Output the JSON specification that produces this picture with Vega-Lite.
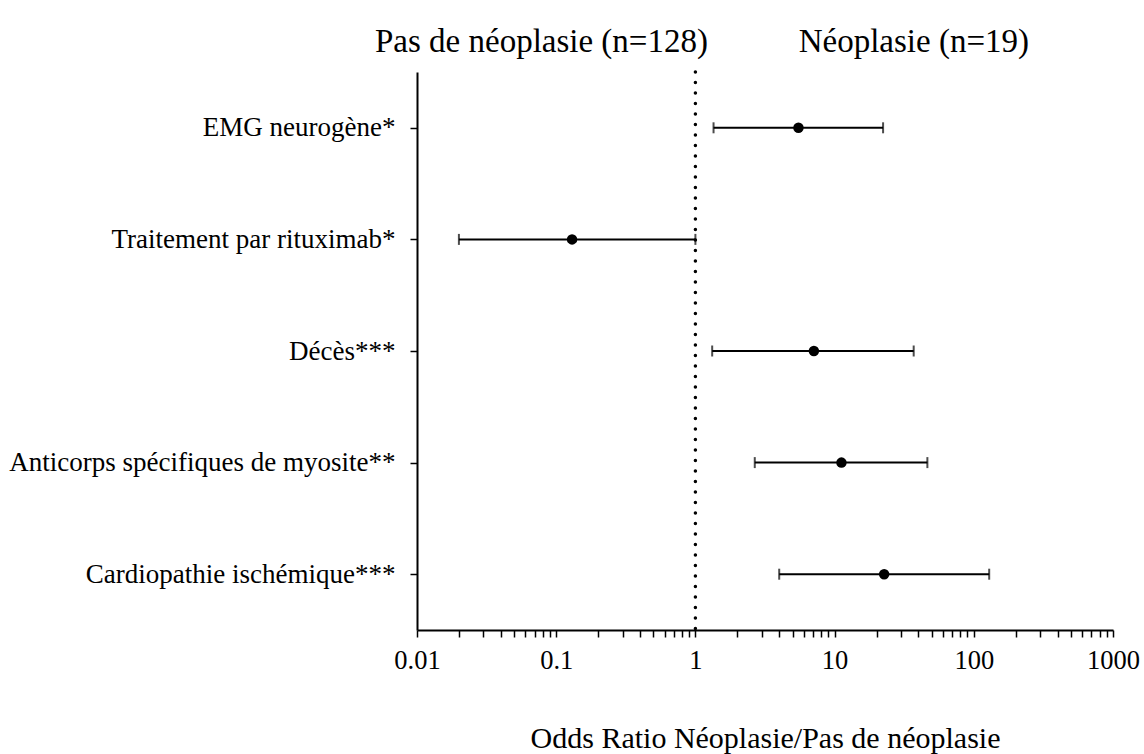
{
  "$schema": "https://vega.github.io/schema/vega-lite/v6.json",
  "width": 696,
  "height": 558,
  "autosize": {"type": "none"},
  "padding": {"left": 417, "top": 72, "right": 31, "bottom": 124},
  "background": "white",
  "title": {
    "text": "Pas de néoplasie (n=128)\u00a0\u00a0\u00a0\u00a0\u00a0\u00a0\u00a0\u00a0\u00a0\u00a0\u00a0Néoplasie (n=19)",
    "font": "Liberation Serif",
    "fontSize": 33,
    "fontWeight": "normal",
    "color": "black",
    "anchor": "middle",
    "dx": -63,
    "dy": 35,
    "offset": 20,
    "baseline": "alphabetic"
  },
  "config": {"view": {"stroke": null}, "font": "Liberation Serif"},
  "data": {
    "values": [
      {"label": "EMG neurogène*", "or": 5.5, "lo": 1.35, "hi": 22.3},
      {"label": "Traitement par rituximab*", "or": 0.13, "lo": 0.02, "hi": 1.0},
      {"label": "Décès***", "or": 7.1, "lo": 1.32, "hi": 37},
      {"label": "Anticorps spécifiques de myosite**", "or": 11.2, "lo": 2.67, "hi": 46.4},
      {"label": "Cardiopathie ischémique***", "or": 22.7, "lo": 4.0, "hi": 129}
    ]
  },
  "layer": [
    {
      "data": {"values": [{"ref": 1}]},
      "mark": {"type": "rule", "strokeDash": [0.1, 10.4], "strokeWidth": 3.5, "strokeCap": "round", "color": "black"},
      "encoding": {
        "x": {
          "field": "ref",
          "type": "quantitative",
          "scale": {"type": "log", "domain": [0.01, 1000], "nice": false},
          "axis": {
            "values": [0.01, 0.02, 0.03, 0.04, 0.05, 0.06, 0.07, 0.08, 0.09, 0.1, 0.2, 0.3, 0.4, 0.5, 0.6, 0.7, 0.8, 0.9, 1, 2, 3, 4, 5, 6, 7, 8, 9, 10, 20, 30, 40, 50, 60, 70, 80, 90, 100, 200, 300, 400, 500, 600, 700, 800, 900, 1000],
            "format": "~g",
            "labelExpr": "indexof([0.01, 0.1, 1, 10, 100, 1000], datum.value) >= 0 ? datum.label : ''",
            "labelOverlap": false,
            "labelFlush": false,
            "labelBound": false,
            "grid": false,
            "domainColor": "black",
            "domainWidth": 2,
            "tickColor": "black",
            "tickWidth": 1.5,
            "tickSize": 7,
            "labelFont": "Liberation Serif",
            "labelFontSize": 26.5,
            "labelColor": "black",
            "labelPadding": 10,
            "title": "Odds Ratio Néoplasie/Pas de néoplasie",
            "titleFont": "Liberation Serif",
            "titleFontSize": 30,
            "titleFontWeight": "normal",
            "titleColor": "black",
            "titlePadding": 50
          }
        }
      }
    },
    {
      "mark": {"type": "rule", "strokeWidth": 2, "color": "black"},
      "encoding": {
        "y": {
          "field": "label",
          "type": "nominal",
          "sort": null,
          "scale": {"type": "point", "padding": 0.5},
          "axis": {
            "title": null,
            "grid": false,
            "domainColor": "black",
            "domainWidth": 2,
            "tickColor": "black",
            "tickWidth": 1.5,
            "tickSize": 7,
            "labelFont": "Liberation Serif",
            "labelFontSize": 27,
            "labelColor": "black",
            "labelPadding": 15,
            "labelLimit": 0
          }
        },
        "x": {"field": "lo", "type": "quantitative"},
        "x2": {"field": "hi"}
      }
    },
    {
      "mark": {"type": "tick", "size": 11, "thickness": 2, "color": "black"},
      "encoding": {
        "y": {"field": "label", "type": "nominal", "sort": null},
        "x": {"field": "lo", "type": "quantitative"}
      }
    },
    {
      "mark": {"type": "tick", "size": 11, "thickness": 2, "color": "black"},
      "encoding": {
        "y": {"field": "label", "type": "nominal", "sort": null},
        "x": {"field": "hi", "type": "quantitative"}
      }
    },
    {
      "mark": {"type": "point", "shape": "circle", "filled": true, "size": 110, "color": "black", "opacity": 1},
      "encoding": {
        "y": {"field": "label", "type": "nominal", "sort": null},
        "x": {"field": "or", "type": "quantitative"}
      }
    }
  ]
}
